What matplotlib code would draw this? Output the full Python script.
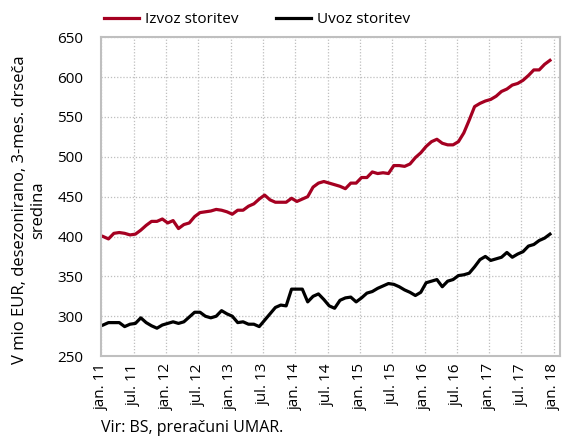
import numpy as np
import matplotlib
matplotlib.use("Agg")
import matplotlib.pyplot as plt

plt.rcParams['font.family'] = ['Open Sans', 'DejaVu Sans']

# monthly values, jan 2011 - dec 2017 (V mio EUR, 3-mes. drseča sredina)
izvoz = [400, 397, 404, 405, 404, 402, 403, 408, 414, 419, 419, 422,
         417, 420, 410, 415, 417, 425, 430, 431, 432, 434, 433, 431,
         428, 433, 433, 438, 441, 447, 452, 446, 443, 443, 443, 448,
         444, 447, 450, 462, 467, 469, 467, 465, 463, 460, 467, 467,
         474, 474, 481, 479, 480, 479, 489, 489, 488, 491, 499, 505,
         513, 519, 522, 517, 515, 515, 519, 530, 546, 563, 567, 570,
         572, 576, 582, 585, 590, 592, 596, 602, 609, 609, 616, 621]
uvoz = [289, 292, 292, 292, 287, 290, 291, 298, 292, 288, 285, 289,
        291, 293, 291, 293, 299, 305, 305, 300, 298, 300, 307, 303,
        300, 292, 293, 290, 290, 287, 295, 303, 311, 314, 313, 334,
        334, 334, 318, 325, 328, 321, 313, 310, 320, 323, 324, 318,
        323, 329, 331, 335, 338, 341, 340, 337, 333, 330, 326, 330,
        342, 344, 346, 337, 344, 346, 351, 352, 354, 362, 371, 375,
        370, 372, 374, 380, 374, 378, 381, 388, 390, 395, 398, 403]
tick_labels = ['jan. 11', 'jul. 11', 'jan. 12', 'jul. 12', 'jan. 13', 'jul. 13',
               'jan. 14', 'jul. 14', 'jan. 15', 'jul. 15', 'jan. 16', 'jul. 16',
               'jan. 17', 'jul. 17', 'jan. 18']

x = np.arange(len(izvoz)) + 0.3
fs = 11

fig = plt.figure(figsize=(5.67, 4.38), dpi=100)
ax = fig.add_axes([0.179, 0.187, 0.809, 0.728])

ax.plot(x, izvoz, color='#A50021', lw=2.3, label='Izvoz storitev', solid_joinstyle='round')
ax.plot(x, uvoz, color='black', lw=2.3, label='Uvoz storitev', solid_joinstyle='round')

ax.set_xlim(0, 85.2)
ax.set_ylim(250, 650)
ax.set_yticks(np.arange(250, 651, 50))
ax.set_xticks(np.arange(0, 85, 6))
ax.set_xticklabels(tick_labels, rotation=90)
ax.tick_params(length=0, labelsize=fs)
ax.tick_params(axis='y', pad=13)
ax.tick_params(axis='x', pad=5)

ax.grid(True, color='#bfbfbf', linestyle=(0, (1, 1.5)), lw=0.9)
ax.set_axisbelow(True)
for s in ax.spines.values():
    s.set_color('#bfbfbf')
    s.set_linewidth(1.5)

ax.legend(loc='lower left', bbox_to_anchor=(-0.016, 1.0), ncol=2, frameon=False,
          fontsize=fs, handlelength=2.3, handletextpad=0.35, columnspacing=2.5,
          borderaxespad=0.25)

fig.text(29 / 567, 1 - 210 / 438, 'V mio EUR, desezonirano, 3-mes. drseča\nsredina',
         rotation=90, ha='center', va='center', multialignment='center',
         fontsize=12, linespacing=1.15)
fig.text(101 / 567, 1 - 428 / 438, 'Vir: BS, preračuni UMAR.', ha='left', va='center',
         fontsize=11.5)

fig.savefig('out.png', dpi=100)
